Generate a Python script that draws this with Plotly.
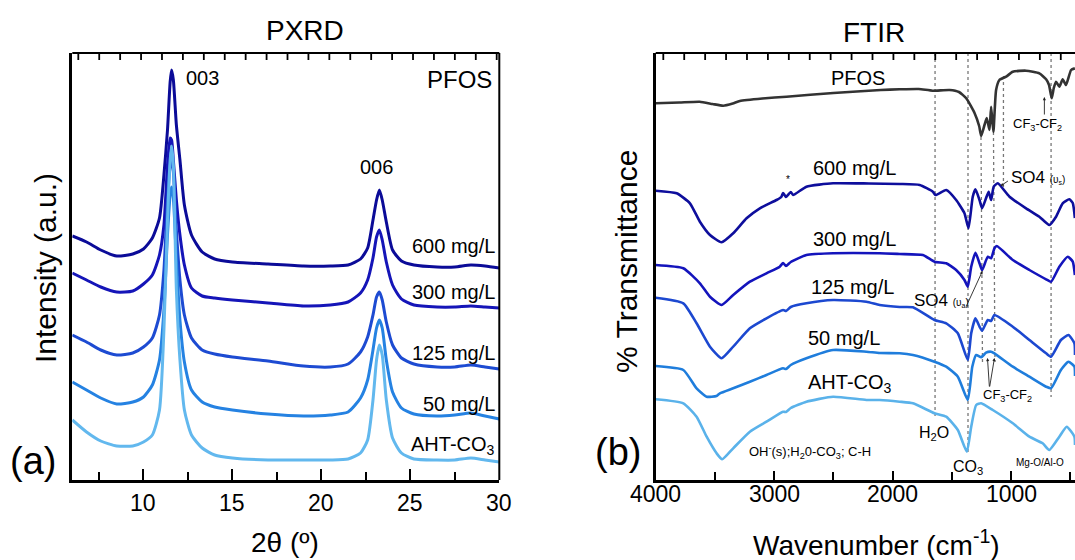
import plotly.graph_objects as go

W, H = 1075, 560
FONT = "Liberation Sans, Arial, sans-serif"

# ---------------- PXRD (panel a) ----------------
two_theta = [6.0, 6.8, 7.6, 8.5, 9.4, 10.0, 10.5, 10.9, 11.15, 11.35, 11.5, 11.58, 11.68,
             11.85, 12.05, 12.3, 12.7, 13.3, 14.0, 15.0, 17.0, 19.0, 20.5, 21.5, 22.2,
             22.6, 22.9, 23.1, 23.26, 23.42, 23.65, 24.0, 24.5, 25.2, 26.5, 27.5, 28.4,
             29.2, 30.0]

xrd_600 = [244, 238, 230, 224, 226, 231, 242, 262, 305, 350, 398, 410, 400, 355, 320, 275,
           245, 228, 221, 218, 216, 214, 214, 215, 221, 232, 260, 280, 290, 280, 258, 230,
           219, 215, 213, 213, 215, 214, 212]
xrd_300 = [207, 200, 193, 188, 189, 196, 205, 225, 255, 315, 342, 340, 320, 280, 245, 215,
           192, 184, 182, 180, 177, 174, 175, 178, 187, 200, 222, 243, 250, 240, 218, 195,
           181, 175, 173, 173, 174, 173, 172]
xrd_125 = [145, 138, 130, 125, 127, 133, 142, 165, 210, 280, 315, 320, 308, 250, 200, 165,
           142, 130, 126, 123, 119, 114, 113, 116, 128, 143, 165, 183, 188, 180, 158, 135,
           122, 116, 113, 113, 115, 113, 111]
xrd_50 = [98, 90, 82, 76, 78, 83, 95, 120, 170, 245, 285, 293, 282, 220, 160, 118, 90, 78,
          73, 70, 66, 64, 65, 68, 82, 100, 130, 152, 160, 152, 120, 88, 72, 66, 64, 65, 67,
          64, 61]
xrd_aht = [60, 48, 39, 34, 34, 38, 45, 70, 150, 260, 320, 334, 315, 190, 120, 70, 45, 32,
           25, 22, 20, 20, 20, 21, 27, 40, 80, 120, 135, 125, 80, 42, 27, 21, 20, 20, 22,
           20, 18]

xrd_labels = ["600 mg/L", "300 mg/L", "125 mg/L", "50 mg/L", "AHT-CO<sub>3</sub>"]
xrd_series = [xrd_600, xrd_300, xrd_125, xrd_50, xrd_aht]
xrd_colors = ["#0b0b98", "#1515b8", "#1d4bd2", "#2582e2", "#62b8ee"]
xrd_ticks = [10, 15, 20, 25, 30]

# ---------------- FTIR (panel b) ----------------
pfos_wn = [4000, 3800, 3629, 3520, 3430, 3350, 3290, 3100, 2896, 2500, 2100, 1941, 1780,
           1663, 1520, 1440, 1379, 1309, 1270, 1253, 1225, 1206, 1183, 1169, 1150, 1127,
           1099, 1042, 986, 874, 762, 705, 680, 658, 640, 621, 593, 565, 537, 494, 462]
pfos_t = [376.7, 377.5, 378.3, 376, 374.3, 376.5, 379, 381.5, 383.3, 387, 390, 390.7, 391,
          389.3, 390, 388, 381.7, 367, 354, 344, 355, 362, 350, 373.3, 348, 390, 400,
          403.3, 408.3, 409.3, 406.7, 400.7, 395, 381.7, 392, 398.3, 393.3, 400.7, 395,
          410, 411.7]

ir600_wn = [4000, 3823, 3711, 3627, 3542, 3444, 3346, 3233, 3121, 2980, 2940, 2925, 2900,
            2860, 2840, 2728, 2503, 2200, 1941, 1772, 1661, 1638, 1548, 1464, 1394, 1360,
            1324, 1301, 1267, 1245, 1212, 1190, 1169, 1147, 1113, 1014, 874, 762, 678, 621,
            565, 509, 480, 462]
ir600_t = [289.3, 286.7, 276.7, 258.3, 245, 237.7, 246.7, 261.7, 271.7, 280, 283, 287, 283,
           288, 285, 293.3, 296.7, 296.5, 296, 295, 288.3, 285, 290, 280, 266.7, 251.7,
           283.3, 290.7, 280, 271.7, 281.7, 288.3, 280, 293.3, 296.7, 283.3, 271.7, 263.3,
           255, 263.3, 276.7, 280.7, 277, 262]

ir300_wn = [4000, 3767, 3627, 3542, 3444, 3346, 3205, 3065, 2953, 2925, 2900, 2860, 2728,
            2503, 2110, 1941, 1745, 1647, 1548, 1464, 1394, 1366, 1337, 1301, 1267, 1245,
            1197, 1169, 1141, 1121, 986, 846, 705, 663, 593, 522, 480, 462]
ir300_t = [215, 211.7, 196.7, 183.3, 175, 185, 198.3, 206.7, 213.3, 217, 214, 218, 225,
           226.7, 226.7, 226, 225, 218.3, 216.7, 210, 200, 193.3, 213.3, 227.3, 216.7, 210,
           223.3, 221.7, 231.7, 234, 220, 210, 200.7, 198.3, 213.3, 223.3, 218.3, 205]

ir125_wn = [4000, 3767, 3655, 3542, 3444, 3346, 3205, 3065, 2925, 2900, 2860, 2728, 2503,
            2222, 2110, 1941, 1829, 1647, 1548, 1450, 1366, 1337, 1301, 1267, 1245, 1197,
            1169, 1141, 986, 846, 705, 663, 580, 516, 466, 461]
ir125_t = [182.3, 176.7, 156.7, 133.3, 121.7, 133.3, 151.7, 161.7, 170, 169, 173, 176.7,
           180, 178.3, 175, 173, 172.7, 160, 156.7, 146.7, 120, 146.7, 161.7, 153.3, 149.3,
           160, 159, 165, 153.3, 140, 126.7, 123.3, 140, 145, 136.7, 125]

ir50_wn = [4000, 3767, 3655, 3570, 3487, 3458, 3346, 3205, 3065, 2925, 2900, 2860, 2728,
           2503, 2222, 2110, 1941, 1829, 1647, 1548, 1450, 1366, 1328, 1295, 1253, 1212,
           1169, 1141, 986, 846, 705, 663, 580, 516, 466, 461]
ir50_t = [114, 110, 91.7, 83.3, 84, 86.7, 91.7, 98.3, 105, 111.7, 111, 115, 121.7, 130,
          128.3, 127, 126.7, 125, 118.3, 113.3, 103.3, 80, 113.3, 125, 122.7, 127.3, 128.3,
          126.7, 113.3, 103.3, 93.3, 91.7, 110, 118.3, 113.3, 104]

irAHT_wn = [4000, 3767, 3655, 3570, 3486, 3439, 3346, 3205, 3065, 2925, 2900, 2860, 2728,
            2503, 2222, 2110, 1941, 1829, 1647, 1548, 1450, 1374, 1337, 1295, 1253, 1155,
            986, 846, 734, 678, 593, 531, 466, 461]
irAHT_t = [80.7, 76.7, 63.3, 43.3, 26.7, 20.7, 31.7, 48.3, 58.3, 68.3, 68, 72, 78.3, 83.3,
           80, 80, 78.3, 76.7, 66.7, 63.3, 50, 28.3, 53.3, 75, 76.7, 70, 56.7, 43.3, 36.7,
           30, 43.3, 53.3, 43.3, 35]

ir_series = [(pfos_wn, pfos_t, "#333333", "PFOS"),
             (ir600_wn, ir600_t, "#0e0e9c", "600 mg/L"),
             (ir300_wn, ir300_t, "#1414bc", "300 mg/L"),
             (ir125_wn, ir125_t, "#1c48d0", "125 mg/L"),
             (ir50_wn, ir50_t, "#1f7ddc", "50 mg/L"),
             (irAHT_wn, irAHT_t, "#5ab2ea", "AHT-CO<sub>3</sub>")]
ir_ticks = [4000, 3000, 2000, 1000]

# ---------------- geometry ----------------
Y_TOP, Y_BOT = 53, 480
YDOM = [1 - Y_BOT / H, 1 - Y_TOP / H]
XDOM_A = [72.3 / W, 499.3 / W]
XDOM_B = [655.7 / W, 1.0]
Y_RANGE = [0, Y_BOT - Y_TOP]
XR_A = [6, 30]
XR_B = [4000, 461]

fig = go.Figure()

for vals, col, name in zip(xrd_series, xrd_colors, xrd_labels):
    fig.add_trace(go.Scatter(x=two_theta, y=vals, mode="lines", name=name,
                             line=dict(color=col, width=3, shape="spline", smoothing=0.6),
                             xaxis="x", yaxis="y", showlegend=False, hoverinfo="skip"))

for wn, t, col, name in ir_series:
    fig.add_trace(go.Scatter(x=wn, y=t, mode="lines", name=name,
                             line=dict(color=col, width=2.6, shape="spline", smoothing=0.5),
                             xaxis="x2", yaxis="y2", showlegend=False, hoverinfo="skip"))

common_y = dict(type="linear", range=Y_RANGE, domain=YDOM, showline=True,
                linecolor="black", linewidth=3, ticks="", showticklabels=False,
                showgrid=False, zeroline=False, automargin=False)


def bottom_axis(dom, anchor, rng, dtick, minor_dtick, ticklen):
    return dict(type="linear", domain=dom, anchor=anchor, range=rng, tickmode="linear",
                tick0=0, dtick=dtick, ticks="inside", ticklen=ticklen, tickwidth=2,
                tickcolor="black", showticklabels=False, layer="above traces",
                minor=dict(dtick=minor_dtick, tick0=0, ticks="inside", ticklen=8,
                           tickwidth=2, tickcolor="black"),
                showline=True, linecolor="black", linewidth=3, showgrid=False,
                zeroline=False, automargin=False)


fig.update_layout(
    template="none",
    width=W, height=H,
    margin=dict(l=0, r=0, t=0, b=0, pad=0, autoexpand=False),
    paper_bgcolor="white", plot_bgcolor="white",
    font=dict(family=FONT, color="black"),
    xaxis=bottom_axis(XDOM_A, "y", XR_A, 5, 2.5, 11),
    yaxis=dict(anchor="x", **common_y),
    xaxis2=bottom_axis(XDOM_B, "y2", XR_B, 1000, 500, 9),
    yaxis2=dict(anchor="x2", **common_y),
)


def wn_of(xpx):
    return 4000 - (xpx - 655.7) / 0.11867


def tr_of(ypx):
    return Y_BOT - ypx


def note(x, y, text, size, anchor="center", angle=0):
    return dict(x=x / W, y=1 - y / H, xref="paper", yref="paper", text=text,
                showarrow=False, xanchor=anchor, yanchor="middle", textangle=angle,
                font=dict(family=FONT, size=size, color="black"))


ann = [
    note(305, 30, "PXRD", 28),
    note(874, 32, "FTIR", 28),
    note(45, 268, "Intensity (a.u.)", 30, angle=-90),
    note(626, 262, "% Transmittance", 30, angle=-90),
    note(285, 542, "2θ (º)", 28),
    note(876, 543, "Wavenumber (cm<sup>-1</sup>)", 28),
    note(33, 461, "(a)", 38),
    note(618, 452, "(b)", 38),
    # PXRD labels
    note(202, 78, "003", 20),
    note(376, 167, "006", 20),
    note(494, 80, "PFOS", 24, anchor="right"),
    note(497, 246, "600 mg/L", 20, anchor="right"),
    note(497, 292, "300 mg/L", 20, anchor="right"),
    note(497, 353, "125 mg/L", 20, anchor="right"),
    note(497, 404, "50 mg/L", 20, anchor="right"),
    note(497, 446, "AHT-CO<sub>3</sub>", 20, anchor="right"),
    # FTIR labels
    note(858, 78, "PFOS", 20),
    note(854, 168, "600 mg/L", 20),
    note(854, 239, "300 mg/L", 20),
    note(852, 287, "125 mg/L", 20),
    note(844, 338, "50 mg/L", 20),
    note(850, 383, "AHT-CO<sub>3</sub>", 20),
    note(810, 452, "OH<sup>-</sup>(s);H<sub>2</sub>0-CO<sub>3</sub>; C-H", 13),
    note(788, 179, "*", 10),
    note(1037, 124, "CF<sub>3</sub>-CF<sub>2</sub>", 13),
    note(1009, 177, "SO4 <span style='font-size:10px'>(υ<sub>s</sub>)</span>", 17,
         anchor="left"),
    note(912, 300, "SO4 <span style='font-size:10px'>(υ<sub>a</sub>)</span>", 17,
         anchor="left"),
    note(1007, 395, "CF<sub>3</sub>-CF<sub>2</sub>", 13),
    note(934, 433, "H<sub>2</sub>O", 16),
    note(968, 467, "CO<sub>3</sub>", 16),
    note(1040, 462, "Mg-O/Al-O", 10),
]

# numeric tick labels placed under their ticks
for v in xrd_ticks:
    ann.append(dict(x=v, xref="x", y=1 - 503 / H, yref="paper", text=str(v),
                    showarrow=False, xanchor="center", yanchor="middle",
                    font=dict(family=FONT, size=23, color="black")))
for v in ir_ticks:
    ann.append(dict(x=v, xref="x2", y=1 - 494 / H, yref="paper", text=str(v),
                    showarrow=False, xanchor="center", yanchor="middle",
                    font=dict(family=FONT, size=23, color="black")))

# pointer arrows (head at the band, tail at the label)
arrows = [((1045, 97), (1045, 116)),
          ((1001, 186), (1010, 180)),
          ((983, 271), (966, 308)),
          ((988, 358), (990, 388)),
          ((995, 358), (990, 388))]
for (hx, hy), (tx, ty) in arrows:
    ann.append(dict(x=wn_of(hx), y=tr_of(hy), xref="x2", yref="y2", ax=tx - hx,
                    ay=ty - hy, text="", showarrow=True, arrowhead=2, arrowsize=0.7,
                    arrowwidth=0.9, arrowcolor="#222222"))

fig.update_layout(annotations=ann)

shapes = []
frame = dict(color="black", width=2)

# top frame lines and the right frame line of panel (a)
for xd, yd in [("x domain", "y domain"), ("x2 domain", "y2 domain")]:
    shapes.append(dict(type="line", xref=xd, yref=yd, x0=0, x1=1, y0=1, y1=1, line=frame))
shapes.append(dict(type="line", xref="x domain", yref="y domain", x0=1, x1=1, y0=0, y1=1,
                   line=frame))

# short inward ticks along the top frames (spacing in screen px)
TOP_TICK_PX = 20.92
TOP_TICK_LEN = 7 / (Y_BOT - Y_TOP)
for left_px, first_px, right_px, xref, yref in [(72.3, 78.3, 499.3, "x domain", "y domain"),
                                                (655.7, 663.3, 1075, "x2 domain", "y2 domain")]:
    span = right_px - left_px
    p = first_px
    while p < right_px - 1:
        f = (p - left_px) / span
        shapes.append(dict(type="line", xref=xref, yref=yref, x0=f, x1=f, y0=1,
                           y1=1 - TOP_TICK_LEN, line=dict(color="black", width=1.8)))
        p += TOP_TICK_PX

# dotted band guides in the FTIR panel: (x_top, y_top, x_bottom, y_bottom) in screen px
guides = [(935.5, 53, 935.5, 418),
          (968.5, 53, 968.5, 455),
          (981.5, 137, 983.0, 362),
          (994.0, 132, 995.5, 362),
          (1004.0, 76, 1004.0, 190),
          (1051.7, 53, 1051.7, 397)]
for x0, y0, x1, y1 in guides:
    shapes.append(dict(type="line", xref="x2", yref="y2", x0=wn_of(x0), y0=tr_of(y0),
                       x1=wn_of(x1), y1=tr_of(y1), layer="below",
                       line=dict(color="#777777", width=1.3, dash="dot")))
fig.update_layout(shapes=shapes)

fig.write_html("out.html")
